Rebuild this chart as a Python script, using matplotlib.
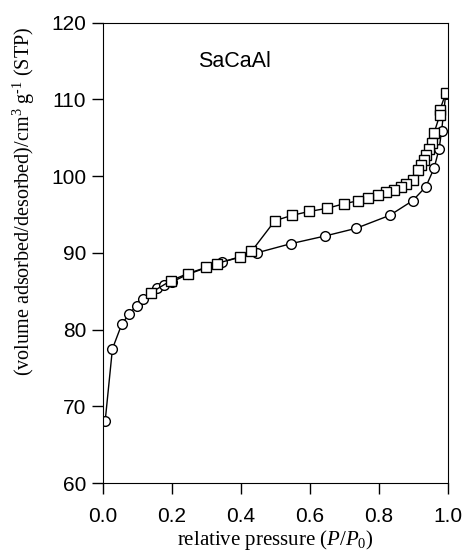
import numpy as np
from matplotlib import pyplot as plt

plt.rcParams["mathtext.fontset"] = "custom"
plt.rcParams["mathtext.rm"] = "Liberation Serif"
plt.rcParams["mathtext.it"] = "Liberation Serif:italic"

# adsorption branch (circles)
p_ads = [0.007, 0.028, 0.055, 0.077, 0.098, 0.118, 0.158, 0.178, 0.2, 0.246,
         0.345, 0.446, 0.545, 0.644, 0.734, 0.832, 0.898, 0.936, 0.96, 0.975,
         0.982, 0.994]
v_ads = [68.1, 77.5, 80.7, 82.1, 83.1, 84.0, 85.4, 85.8, 86.2, 87.2,
         88.8, 90.0, 91.2, 92.2, 93.2, 94.9, 96.8, 98.6, 101.0, 103.6,
         105.9, 110.7]

# desorption branch (squares)
p_des = [0.994, 0.977, 0.977, 0.96, 0.953, 0.946, 0.938, 0.931, 0.922, 0.914,
         0.898, 0.88, 0.863, 0.844, 0.822, 0.798, 0.769, 0.74, 0.699, 0.649,
         0.598, 0.549, 0.499, 0.431, 0.398, 0.33, 0.299, 0.246, 0.198, 0.139]
v_des = [110.8, 108.6, 108.0, 105.6, 104.3, 103.5, 102.8, 102.1, 101.5, 100.8,
         99.5, 99.0, 98.6, 98.2, 97.9, 97.6, 97.2, 96.8, 96.4, 95.8,
         95.4, 94.9, 94.2, 90.2, 89.5, 88.6, 88.1, 87.3, 86.4, 84.8]

fig = plt.figure(figsize=(4.65, 5.54), dpi=100)
ax = fig.add_axes([0.221, 0.128, 0.742, 0.831])

ax.plot(p_ads, v_ads, color="black", lw=1.0, marker="o", ms=7.0,
        mfc="white", mec="black", mew=1.0)
ax.plot(p_des, v_des, color="black", lw=1.0, marker="s", ms=6.5,
        mfc="white", mec="black", mew=1.0)

ax.set_xlim(0, 1.0)
ax.set_ylim(60, 120)
ax.set_xticks([0.0, 0.2, 0.4, 0.6, 0.8, 1.0])
ax.set_yticks([60, 70, 80, 90, 100, 110, 120])
ax.tick_params(direction="out", length=8, width=1, labelsize=15, pad=4,
               top=False, right=False)
ax.tick_params(axis="x", pad=9)
for lab in ax.get_xticklabels() + ax.get_yticklabels():
    lab.set_family("Liberation Sans")

ax.text(0.275, 115.0, "SaCaAl", fontsize=15.5, family="Liberation Sans",
        va="center")

ax.set_xlabel(r"relative pressure ($P/P_0$)", family="Liberation Serif",
              fontsize=15)
ax.xaxis.set_label_coords(0.5, -0.098)
ax.set_ylabel(r"(volume adsorbed/desorbed)/cm$^3$ g$^{\text{-1}}$ (STP)",
              family="Liberation Serif", fontsize=14.5)
ax.yaxis.set_label_coords(-0.19, 0.613)

fig.savefig("out.png", dpi=100)
